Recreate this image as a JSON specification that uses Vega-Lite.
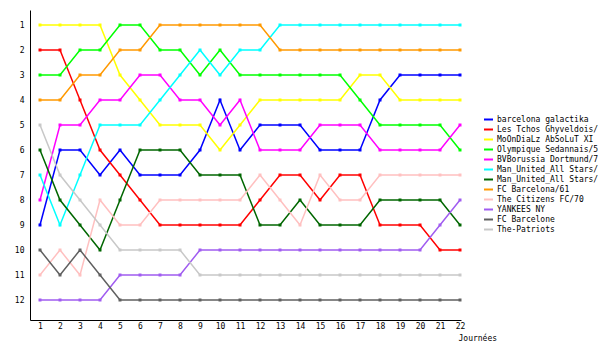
{
  "$schema": "https://vega.github.io/schema/vega-lite/v6.json",
  "autosize": "none",
  "padding": {"left": 30, "top": 10, "right": 139, "bottom": 30},
  "width": 431,
  "height": 310,
  "background": "white",
  "config": {
    "view": {"stroke": null},
    "axis": {"labelFont": "DejaVu Sans Mono", "labelFontSize": 8, "labelColor": "black", "domainColor": "black", "domainWidth": 1, "grid": false, "ticks": false, "titleFont": "DejaVu Sans Mono", "titleFontSize": 8, "titleFontWeight": "normal", "titleColor": "black"},
    "legend": {"labelFont": "DejaVu Sans Mono", "labelFontSize": 8, "labelColor": "black"}
  },
  "data": {"values": [
    {"J": 1, "barcelona galactika": 9, "Les Tchos Ghyveldois/": 2, "MoOnDiaLz AbSoLuT XI": 1, "Olympique Sedannais/5": 3, "BVBorussia Dortmund/7": 8, "Man_United_All Stars/": 7, "Man_United_All Stars/ ": 6, "FC Barcelona/61": 4, "The Citizens FC/70": 11, "YANKEES NY": 12, "FC Barcelone": 10, "The-Patriots": 5},
    {"J": 2, "barcelona galactika": 6, "Les Tchos Ghyveldois/": 2, "MoOnDiaLz AbSoLuT XI": 1, "Olympique Sedannais/5": 3, "BVBorussia Dortmund/7": 5, "Man_United_All Stars/": 9, "Man_United_All Stars/ ": 8, "FC Barcelona/61": 4, "The Citizens FC/70": 10, "YANKEES NY": 12, "FC Barcelone": 11, "The-Patriots": 7},
    {"J": 3, "barcelona galactika": 6, "Les Tchos Ghyveldois/": 4, "MoOnDiaLz AbSoLuT XI": 1, "Olympique Sedannais/5": 2, "BVBorussia Dortmund/7": 5, "Man_United_All Stars/": 7, "Man_United_All Stars/ ": 9, "FC Barcelona/61": 3, "The Citizens FC/70": 11, "YANKEES NY": 12, "FC Barcelone": 10, "The-Patriots": 8},
    {"J": 4, "barcelona galactika": 7, "Les Tchos Ghyveldois/": 6, "MoOnDiaLz AbSoLuT XI": 1, "Olympique Sedannais/5": 2, "BVBorussia Dortmund/7": 4, "Man_United_All Stars/": 5, "Man_United_All Stars/ ": 10, "FC Barcelona/61": 3, "The Citizens FC/70": 8, "YANKEES NY": 12, "FC Barcelone": 11, "The-Patriots": 9},
    {"J": 5, "barcelona galactika": 6, "Les Tchos Ghyveldois/": 7, "MoOnDiaLz AbSoLuT XI": 3, "Olympique Sedannais/5": 1, "BVBorussia Dortmund/7": 4, "Man_United_All Stars/": 5, "Man_United_All Stars/ ": 8, "FC Barcelona/61": 2, "The Citizens FC/70": 9, "YANKEES NY": 11, "FC Barcelone": 12, "The-Patriots": 10},
    {"J": 6, "barcelona galactika": 7, "Les Tchos Ghyveldois/": 8, "MoOnDiaLz AbSoLuT XI": 4, "Olympique Sedannais/5": 1, "BVBorussia Dortmund/7": 3, "Man_United_All Stars/": 5, "Man_United_All Stars/ ": 6, "FC Barcelona/61": 2, "The Citizens FC/70": 9, "YANKEES NY": 11, "FC Barcelone": 12, "The-Patriots": 10},
    {"J": 7, "barcelona galactika": 7, "Les Tchos Ghyveldois/": 9, "MoOnDiaLz AbSoLuT XI": 5, "Olympique Sedannais/5": 2, "BVBorussia Dortmund/7": 3, "Man_United_All Stars/": 4, "Man_United_All Stars/ ": 6, "FC Barcelona/61": 1, "The Citizens FC/70": 8, "YANKEES NY": 11, "FC Barcelone": 12, "The-Patriots": 10},
    {"J": 8, "barcelona galactika": 7, "Les Tchos Ghyveldois/": 9, "MoOnDiaLz AbSoLuT XI": 5, "Olympique Sedannais/5": 2, "BVBorussia Dortmund/7": 4, "Man_United_All Stars/": 3, "Man_United_All Stars/ ": 6, "FC Barcelona/61": 1, "The Citizens FC/70": 8, "YANKEES NY": 11, "FC Barcelone": 12, "The-Patriots": 10},
    {"J": 9, "barcelona galactika": 6, "Les Tchos Ghyveldois/": 9, "MoOnDiaLz AbSoLuT XI": 5, "Olympique Sedannais/5": 3, "BVBorussia Dortmund/7": 4, "Man_United_All Stars/": 2, "Man_United_All Stars/ ": 7, "FC Barcelona/61": 1, "The Citizens FC/70": 8, "YANKEES NY": 10, "FC Barcelone": 12, "The-Patriots": 11},
    {"J": 10, "barcelona galactika": 4, "Les Tchos Ghyveldois/": 9, "MoOnDiaLz AbSoLuT XI": 6, "Olympique Sedannais/5": 2, "BVBorussia Dortmund/7": 5, "Man_United_All Stars/": 3, "Man_United_All Stars/ ": 7, "FC Barcelona/61": 1, "The Citizens FC/70": 8, "YANKEES NY": 10, "FC Barcelone": 12, "The-Patriots": 11},
    {"J": 11, "barcelona galactika": 6, "Les Tchos Ghyveldois/": 9, "MoOnDiaLz AbSoLuT XI": 5, "Olympique Sedannais/5": 3, "BVBorussia Dortmund/7": 4, "Man_United_All Stars/": 2, "Man_United_All Stars/ ": 7, "FC Barcelona/61": 1, "The Citizens FC/70": 8, "YANKEES NY": 10, "FC Barcelone": 12, "The-Patriots": 11},
    {"J": 12, "barcelona galactika": 5, "Les Tchos Ghyveldois/": 8, "MoOnDiaLz AbSoLuT XI": 4, "Olympique Sedannais/5": 3, "BVBorussia Dortmund/7": 6, "Man_United_All Stars/": 2, "Man_United_All Stars/ ": 9, "FC Barcelona/61": 1, "The Citizens FC/70": 7, "YANKEES NY": 10, "FC Barcelone": 12, "The-Patriots": 11},
    {"J": 13, "barcelona galactika": 5, "Les Tchos Ghyveldois/": 7, "MoOnDiaLz AbSoLuT XI": 4, "Olympique Sedannais/5": 3, "BVBorussia Dortmund/7": 6, "Man_United_All Stars/": 1, "Man_United_All Stars/ ": 9, "FC Barcelona/61": 2, "The Citizens FC/70": 8, "YANKEES NY": 10, "FC Barcelone": 12, "The-Patriots": 11},
    {"J": 14, "barcelona galactika": 5, "Les Tchos Ghyveldois/": 7, "MoOnDiaLz AbSoLuT XI": 4, "Olympique Sedannais/5": 3, "BVBorussia Dortmund/7": 6, "Man_United_All Stars/": 1, "Man_United_All Stars/ ": 8, "FC Barcelona/61": 2, "The Citizens FC/70": 9, "YANKEES NY": 10, "FC Barcelone": 12, "The-Patriots": 11},
    {"J": 15, "barcelona galactika": 6, "Les Tchos Ghyveldois/": 8, "MoOnDiaLz AbSoLuT XI": 4, "Olympique Sedannais/5": 3, "BVBorussia Dortmund/7": 5, "Man_United_All Stars/": 1, "Man_United_All Stars/ ": 9, "FC Barcelona/61": 2, "The Citizens FC/70": 7, "YANKEES NY": 10, "FC Barcelone": 12, "The-Patriots": 11},
    {"J": 16, "barcelona galactika": 6, "Les Tchos Ghyveldois/": 7, "MoOnDiaLz AbSoLuT XI": 4, "Olympique Sedannais/5": 3, "BVBorussia Dortmund/7": 5, "Man_United_All Stars/": 1, "Man_United_All Stars/ ": 9, "FC Barcelona/61": 2, "The Citizens FC/70": 8, "YANKEES NY": 10, "FC Barcelone": 12, "The-Patriots": 11},
    {"J": 17, "barcelona galactika": 6, "Les Tchos Ghyveldois/": 7, "MoOnDiaLz AbSoLuT XI": 3, "Olympique Sedannais/5": 4, "BVBorussia Dortmund/7": 5, "Man_United_All Stars/": 1, "Man_United_All Stars/ ": 9, "FC Barcelona/61": 2, "The Citizens FC/70": 8, "YANKEES NY": 10, "FC Barcelone": 12, "The-Patriots": 11},
    {"J": 18, "barcelona galactika": 4, "Les Tchos Ghyveldois/": 9, "MoOnDiaLz AbSoLuT XI": 3, "Olympique Sedannais/5": 5, "BVBorussia Dortmund/7": 6, "Man_United_All Stars/": 1, "Man_United_All Stars/ ": 8, "FC Barcelona/61": 2, "The Citizens FC/70": 7, "YANKEES NY": 10, "FC Barcelone": 12, "The-Patriots": 11},
    {"J": 19, "barcelona galactika": 3, "Les Tchos Ghyveldois/": 9, "MoOnDiaLz AbSoLuT XI": 4, "Olympique Sedannais/5": 5, "BVBorussia Dortmund/7": 6, "Man_United_All Stars/": 1, "Man_United_All Stars/ ": 8, "FC Barcelona/61": 2, "The Citizens FC/70": 7, "YANKEES NY": 10, "FC Barcelone": 12, "The-Patriots": 11},
    {"J": 20, "barcelona galactika": 3, "Les Tchos Ghyveldois/": 9, "MoOnDiaLz AbSoLuT XI": 4, "Olympique Sedannais/5": 5, "BVBorussia Dortmund/7": 6, "Man_United_All Stars/": 1, "Man_United_All Stars/ ": 8, "FC Barcelona/61": 2, "The Citizens FC/70": 7, "YANKEES NY": 10, "FC Barcelone": 12, "The-Patriots": 11},
    {"J": 21, "barcelona galactika": 3, "Les Tchos Ghyveldois/": 10, "MoOnDiaLz AbSoLuT XI": 4, "Olympique Sedannais/5": 5, "BVBorussia Dortmund/7": 6, "Man_United_All Stars/": 1, "Man_United_All Stars/ ": 8, "FC Barcelona/61": 2, "The Citizens FC/70": 7, "YANKEES NY": 9, "FC Barcelone": 12, "The-Patriots": 11},
    {"J": 22, "barcelona galactika": 3, "Les Tchos Ghyveldois/": 10, "MoOnDiaLz AbSoLuT XI": 4, "Olympique Sedannais/5": 6, "BVBorussia Dortmund/7": 5, "Man_United_All Stars/": 1, "Man_United_All Stars/ ": 9, "FC Barcelona/61": 2, "The Citizens FC/70": 7, "YANKEES NY": 8, "FC Barcelone": 12, "The-Patriots": 11}
  ]},
  "transform": [
    {"fold": ["barcelona galactika", "Les Tchos Ghyveldois/", "MoOnDiaLz AbSoLuT XI", "Olympique Sedannais/5", "BVBorussia Dortmund/7", "Man_United_All Stars/", "Man_United_All Stars/ ", "FC Barcelona/61", "The Citizens FC/70", "YANKEES NY", "FC Barcelone", "The-Patriots"], "as": ["team", "rank"]}
  ],
  "mark": {"type": "line", "strokeWidth": 1.5, "interpolate": "linear", "point": {"shape": "square", "size": 9, "filled": true}},
  "encoding": {
    "x": {"field": "J", "type": "quantitative",
      "scale": {"domain": [0.5, 22.05], "nice": false, "zero": false},
      "axis": {"values": [1,2,3,4,5,6,7,8,9,10,11,12,13,14,15,16,17,18,19,20,21,22], "format": "d", "labelPadding": 2, "labelFlush": false, "labelOverlap": false, "title": "Journées", "titleAlign": "left", "titleAnchor": "start", "titleX": 428, "titleY": 20, "titleBaseline": "alphabetic"}},
    "y": {"field": "rank", "type": "quantitative",
      "scale": {"domain": [0.4, 12.8], "nice": false, "zero": false, "reverse": true},
      "axis": {"values": [1,2,3,4,5,6,7,8,9,10,11,12], "format": "d", "labelPadding": 6, "title": null, "labelFlush": false, "labelOverlap": false}},
    "color": {"field": "team", "type": "nominal",
      "scale": {"domain": ["barcelona galactika", "Les Tchos Ghyveldois/", "MoOnDiaLz AbSoLuT XI", "Olympique Sedannais/5", "BVBorussia Dortmund/7", "Man_United_All Stars/", "Man_United_All Stars/ ", "FC Barcelona/61", "The Citizens FC/70", "YANKEES NY", "FC Barcelone", "The-Patriots"],
        "range": ["#0000FF", "#FF0000", "#FFFF00", "#00FF00", "#FF00FF", "#00FFFF", "#006600", "#FF9900", "#FFC0C0", "#A05CF0", "#606060", "#C8C8C8"]},
      "legend": {"title": null, "orient": "none", "legendX": 453, "legendY": 104, "symbolType": "stroke", "symbolSize": 81, "symbolStrokeWidth": 2, "labelOffset": 3, "rowPadding": 0, "padding": 0, "labelLimit": 200}}
  }
}
